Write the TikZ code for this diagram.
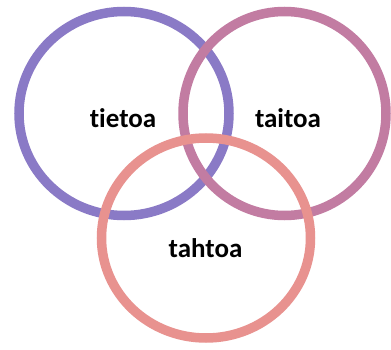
\documentclass[tikz,border=0pt]{standalone}
\usepackage{fontspec}
\setmainfont[Ligatures=NoCommon]{Carlito}
\definecolor{cpurple}{HTML}{8A7AC6}
\definecolor{cmagenta}{HTML}{C27CA2}
\definecolor{cpink}{HTML}{E8928F}
\begin{document}
\begin{tikzpicture}[x=1pt,y=-1pt,
  ring/.style={line width=9.5pt},
  lbl/.style={font=\fontsize{27}{31}\selectfont\bfseries, text=black, inner sep=0pt}]
\useasboundingbox[fill=white] (0,0) rectangle (391,350);
\draw[ring, cpurple] (124,113.5) ellipse [x radius=105, y radius=102];
\draw[ring, cmagenta] (284.5,113.5) ellipse [x radius=101.5, y radius=102];
\draw[ring, cpink] (206,238) ellipse [x radius=104.5, y radius=100];
\node[lbl] (tietoa) at (123,118) {tietoa};
\node[lbl] (taitoa) at (288,118) {taitoa};
\node[lbl] (tahtoa) at (205.5,248) {tahtoa};
\end{tikzpicture}
\end{document}
